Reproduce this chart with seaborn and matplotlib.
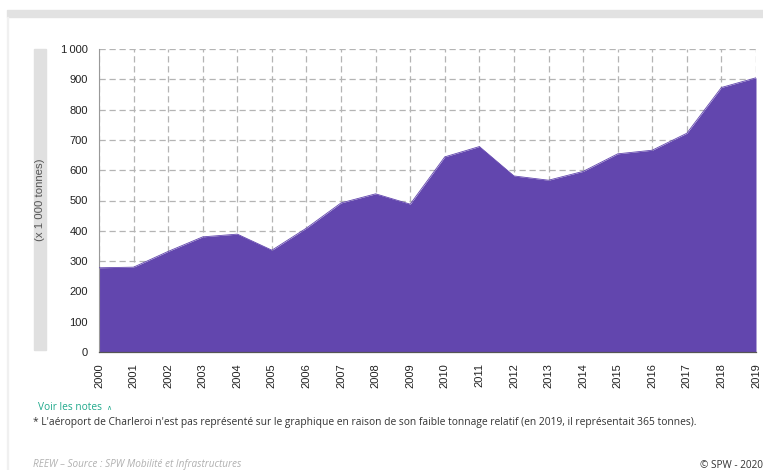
#Recreates the air freight tonnage area chart (Wallonia airports, 2000-2019)
#required libraries
import matplotlib
matplotlib.use('Agg')
import matplotlib.pyplot as plt
import seaborn as sns
import pandas as pd
from matplotlib.patches import Rectangle

#data (x 1 000 tonnes)
years = list(range(2000, 2020))
tonnage = [278, 280, 332, 380, 389, 336, 409, 492, 522, 488,
           644, 678, 581, 567, 596, 654, 666, 722, 873, 905]
y_ticks = [0, 100, 200, 300, 400, 500, 600, 700, 800, 900, 1000]
y_tick_labels = ['0', '100', '200', '300', '400', '500', '600', '700', '800', '900', '1\u2009000']

df = pd.DataFrame({'annee': years, 'tonnage': tonnage})

sns.set_style('white')
plt.rcParams['font.family'] = ['Liberation Sans', 'DejaVu Sans']

fill_color = '#6246ae'
grid_color = '#b4b4b4'

fig = plt.figure(figsize=(7.63, 4.70), dpi=100)
ax = fig.add_axes([99 / 763, 1 - 352 / 470, 657 / 763, 303 / 470])

#area: seaborn line for the outline, fill below it
sns.lineplot(data=df, x='annee', y='tonnage', ax=ax, color=fill_color, linewidth=0.6, zorder=3)
ax.fill_between(df['annee'], df['tonnage'], color=fill_color, linewidth=0, zorder=2)

ax.set_xlim(years[0], years[-1])
ax.set_ylim(0, 1000)
ax.set_xticks(years)
ax.set_xticklabels([str(y) for y in years], rotation=90, fontsize=8, color='#222222')
ax.set_yticks(y_ticks)
ax.set_yticklabels(y_tick_labels, fontsize=8, color='#222222')
ax.set_xlabel('')
ax.set_ylabel('')

#dashed grid
ax.grid(True, color=grid_color, linestyle=(0, (5, 3)), linewidth=0.9, zorder=0)
ax.set_axisbelow(True)
for side in ['top', 'right']:
    ax.spines[side].set_visible(False)
ax.spines['left'].set_color('#999999')
ax.spines['left'].set_linewidth(0.8)
ax.spines['bottom'].set_color('#555555')
ax.spines['bottom'].set_linewidth(0.9)
ax.tick_params(axis='both', direction='out', length=5, width=0.8, color='#888888', pad=3)

#grey band holding the y label
fig.patches.append(Rectangle((34 / 763, 1 - 350 / 470), 12 / 763, 301 / 470,
                             transform=fig.transFigure, color='#e0e0e0', zorder=0))
fig.text(40 / 763, 1 - 200 / 470, '(x 1 000 tonnes)', rotation=90, ha='center', va='center',
         fontsize=8.2, color='#555555')

#top grey band and left border of the card
fig.patches.append(Rectangle((7 / 763, 1 - 17 / 470), 756 / 763, 7 / 470,
                             transform=fig.transFigure, color='#e2e2e2', zorder=0))
fig.patches.append(Rectangle((7 / 763, 0), 1.2 / 763, 1 - 17 / 470,
                             transform=fig.transFigure, color='#f0f0f0', zorder=0))

#notes
fig.text(38 / 763, 1 - 408 / 470, 'Voir les notes', fontsize=7.3, color='#20a98c',
         va='center', family=['Open Sans', 'DejaVu Sans'])
fig.text(109 / 763, 1 - 407.5 / 470, '\u2227', fontsize=5, color='#20a98c',
         va='center', ha='center', family=['DejaVu Sans'])
fig.text(33 / 763, 1 - 423 / 470,
         "* L'aéroport de Charleroi n'est pas représenté sur le graphique en raison de son faible "
         "tonnage relatif (en 2019, il représentait 365 tonnes).",
         fontsize=7.4, color='#333333', va='center', family=['Open Sans', 'DejaVu Sans'])
fig.text(33 / 763, 1 - 465 / 470, 'REEW – Source : SPW Mobilité et Infrastructures',
         fontsize=7.2, color='#b0b0b0', style='italic', va='center',
         family=['Open Sans', 'DejaVu Sans'])
fig.text(763 / 763, 1 - 465 / 470, '© SPW - 2020', fontsize=7.2, color='#333333',
         ha='right', va='center', family=['Open Sans', 'DejaVu Sans'])

fig.savefig('out.png', dpi=100)
